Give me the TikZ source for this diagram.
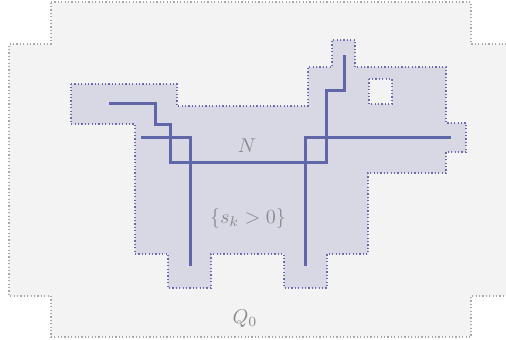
\documentclass[tikz,border=0pt]{standalone}
\usepackage{amsmath,amssymb}
\usetikzlibrary{calc}
\definecolor{qfill}{HTML}{F3F3F3}
\definecolor{qedge}{HTML}{A8A8A8}
\definecolor{nfill}{HTML}{D8D8E5}
\definecolor{nedge}{HTML}{6A6AAE}
\definecolor{pathblue}{HTML}{5F67A8}
\definecolor{labelgray}{HTML}{8A8A8A}
\tikzset{
  dotborder/.style={line width=0.6pt,dash pattern=on 0.6pt off 1.1pt},
  netline/.style={pathblue,line width=1.5pt,line cap=butt,line join=miter},
  setlabel/.style={labelgray,inner sep=1pt}
}
\begin{document}
\begin{tikzpicture}[x=0.5pt,y=-0.5pt]
  \useasboundingbox (0,0) rectangle (506,339);
  \clip (0,0) rectangle (506,339);

  % --- region Q_0 ---
  \filldraw[fill=qfill,draw=qedge,dotborder]
    (51,2) -- (471,2) -- (471,44) -- (513,44) -- (513,296) -- (471,296)
    -- (471,337) -- (51,337) -- (51,296) -- (9,296) -- (9,44) -- (51,44) -- cycle;

  % --- set {s_k > 0} ---
  \filldraw[fill=nfill,draw=nedge,dotborder]
    (71,84) -- (177,84) -- (177,106) -- (308,106) -- (308,67) -- (332,67)
    -- (332,40) -- (355,40) -- (355,67) -- (446,67) -- (446,123) -- (466,123)
    -- (466,152) -- (446,152) -- (446,173) -- (368,173) -- (368,254)
    -- (327,254) -- (327,288) -- (284,288) -- (284,254) -- (211,254)
    -- (211,288) -- (168,288) -- (168,254) -- (135,254) -- (135,124)
    -- (71,124) -- cycle;
  % hole
  \filldraw[fill=qfill,draw=nedge,dotborder] (369,79) rectangle (392,104);

  % --- network N ---
  \coordinate (a0) at (109,103);
  \coordinate (a1) at (344,55);
  \draw[netline] (a0) -- (155,103) -- (155,124) -- (170,124) -- (170,162)
    -- (326,162) -- (326,90) -- (344,90) -- (a1);
  \coordinate (b0) at (141,137);
  \coordinate (b1) at (190,266);
  \draw[netline] (b0) -| (b1);
  \coordinate (c0) at (451,137);
  \coordinate (c1) at (305,266);
  \draw[netline] (c0) -| (c1);

  % labels
  \node[setlabel] (lblN) at (247,146) {$N$};
  \node[setlabel] (lblS) at (248,218) {$\{s_k > 0\}$};
  \node[setlabel] (lblQ) at (245,319) {$Q_0$};
\end{tikzpicture}
\end{document}
